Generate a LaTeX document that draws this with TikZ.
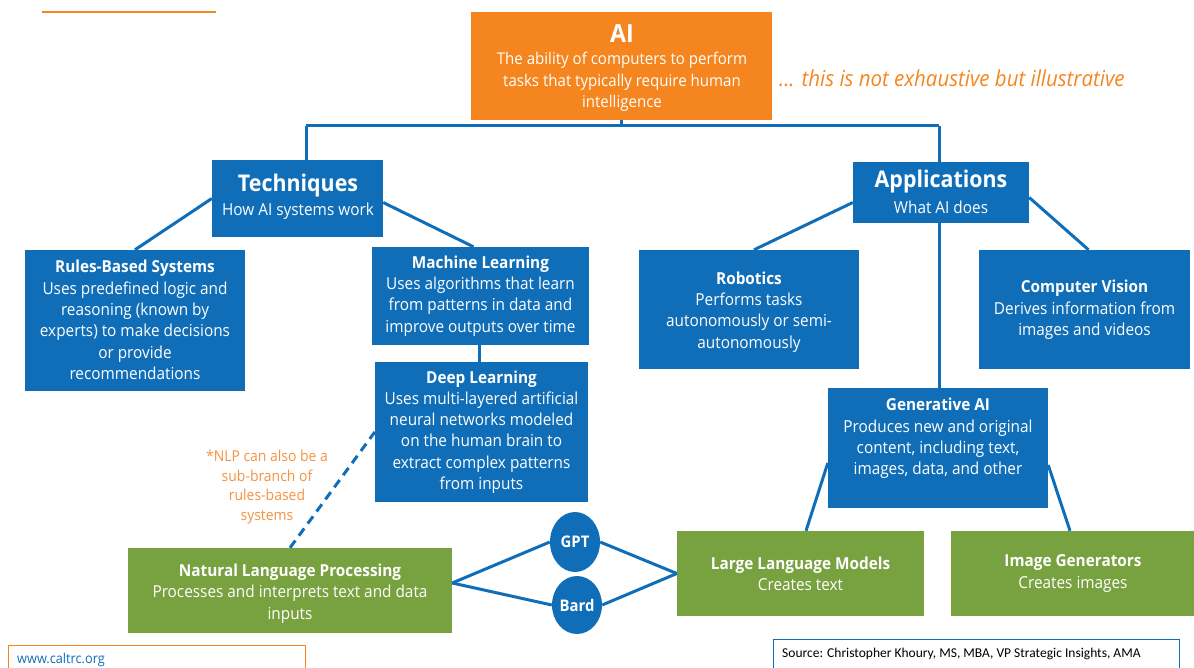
\documentclass[tikz,border=0pt]{standalone}
\usepackage{fontspec}
\setmainfont{Open Sans}[FakeStretch=0.93]
\newfontfamily\srcfont{Carlito}
\usetikzlibrary{calc,shapes.geometric}
\definecolor{ablue}{HTML}{106EB8}
\definecolor{aorange}{HTML}{F5861F}
\definecolor{agreen}{HTML}{78A13F}
\definecolor{notecol}{HTML}{F39340}
\begin{document}
\begin{tikzpicture}[x=1pt,y=-1pt,
  bluebox/.style={fill=ablue, inner sep=0pt, draw=none},
  greenbox/.style={fill=agreen, inner sep=0pt, draw=none},
  orangebox/.style={fill=aorange, inner sep=0pt, draw=none},
  txt/.style={text=white, align=center, inner sep=0pt, font=\fontsize{16.5}{21.3}\selectfont},
  bigtitle/.style={text=white, align=center, inner sep=0pt, font=\fontsize{23}{26}\selectfont\bfseries},
  conn/.style={draw=ablue, line width=3pt},
  circ/.style={ellipse, fill=ablue, inner sep=0pt, text=white, font=\fontsize{16}{18}\selectfont\bfseries},
]
\useasboundingbox (0,0) rectangle (1194,668);

% top orange rule
\coordinate (ol1) at (42,12);
\coordinate (ol2) at (216,12);
\draw[aorange, line width=1.5pt] (ol1) -- (ol2);

% AI box
\node[orangebox, minimum width=301pt, minimum height=108pt] (ai) at (621.5,66) {};
\node[text=white, inner sep=0pt, font=\fontsize{25}{28}\selectfont\bfseries] (aititle) at (622,34) {AI};
\node[txt, font=\fontsize{16.2}{21.5}\selectfont] (aidesc) at (622,82) {The ability of computers to perform\\tasks that typically require human\\intelligence};
\node[text=aorange, anchor=west, inner sep=0pt, font=\fontsize{22}{26}\selectfont\itshape] (illus) at (779,78) {... this is not exhaustive but illustrative};

% Techniques / Applications
\node[bluebox, minimum width=171pt, minimum height=77pt] (tech) at (297.5,198.5) {};
\node[bigtitle] (techt) at (298,186) {Techniques};
\node[txt, font=\fontsize{16.5}{20}\selectfont] (techd) at (298,211) {How AI systems work};

\node[bluebox, minimum width=176pt, minimum height=61pt] (app) at (941,192.5) {};
\node[bigtitle] (appt) at (941,182) {Applications};
\node[txt, font=\fontsize{16.5}{20}\selectfont] (appd) at (941,207) {What AI does};

% Level 2 boxes
\node[bluebox, minimum width=220pt, minimum height=141pt] (rules) at (135,320.5) {};
\node[txt] (rulest) at (135,320) {\textbf{Rules-Based Systems}\\Uses predefined logic and\\reasoning (known by\\experts) to make decisions\\or provide\\recommendations};

\node[bluebox, minimum width=217pt, minimum height=98pt] (ml) at (480.5,296) {};
\node[txt] (mlt) at (480.5,296) {\textbf{Machine Learning}\\Uses algorithms that learn\\from patterns in data and\\improve outputs over time};

\node[bluebox, minimum width=213pt, minimum height=140pt] (dl) at (481.5,432) {};
\node[txt] (dlt) at (481.5,432) {\textbf{Deep Learning}\\Uses multi-layered artificial\\neural networks modeled\\on the human brain to\\extract complex patterns\\from inputs};

\node[bluebox, minimum width=220pt, minimum height=119pt] (robot) at (749,309.5) {};
\node[txt] (robott) at (749,312) {\textbf{Robotics}\\Performs tasks\\autonomously or semi-\\autonomously};

\node[bluebox, minimum width=211pt, minimum height=119pt] (cv) at (1084.5,309.5) {};
\node[txt] (cvt) at (1084.5,310) {\textbf{Computer Vision}\\Derives information from\\images and videos};

\node[bluebox, minimum width=220pt, minimum height=120pt] (genai) at (938,448) {};
\node[txt] (genait) at (938,438.5) {\textbf{Generative AI}\\Produces new and original\\content, including text,\\images, data, and other};

% green boxes
\node[greenbox, minimum width=324pt, minimum height=85pt] (nlp) at (290,590.5) {};
\node[txt] (nlpt) at (290,593.5) {\textbf{Natural Language Processing}\\Processes and interprets text and data\\inputs};

\node[greenbox, minimum width=247pt, minimum height=85pt] (llm) at (800.5,573.5) {};
\node[txt] (llmt) at (800.5,573.5) {\textbf{Large Language Models}\\Creates text};

\node[greenbox, minimum width=244pt, minimum height=85pt] (img) at (1073,573.5) {};
\node[txt] (imgt) at (1073,573.5) {\textbf{Image Generators}\\Creates images};

% GPT / Bard
\node[circ, minimum width=50pt, minimum height=60pt] (gpt) at (575,542) {GPT};
\node[circ, minimum width=50pt, minimum height=58pt] (bard) at (577,605) {Bard};

% NLP note
\node[text=notecol, align=center, inner sep=0pt, font=\fontsize{15}{19.6}\selectfont] (nlpnote) at (267,487) {*NLP can also be a\\sub-branch of\\rules-based\\systems};

% connectors
\coordinate (tl) at (306,126);
\coordinate (tr) at (939,126);
\draw[conn] (ai.south) -- (ai.south|-tl);
\draw[conn] (tl) -- (tr);
\draw[conn] (tl) -- (tl|-tech.north);
\draw[conn] (tr) -- (tr|-app.north);
\draw[conn] (tech.west) -- (rules.north);
\draw[conn] ([yshift=-4pt]tech.east) -- ([xshift=-7pt]ml.north);
\draw[conn] ([yshift=-10pt]app.west) -- ([xshift=5pt]robot.north);
\draw[conn] ([yshift=-5pt]app.east) -- ([xshift=4pt]cv.north);
\draw[conn] (app.south-|tr) -- (tr|-genai.north);
\draw[conn] ([xshift=-1.5pt]ml.south) -- ([xshift=-2.5pt]dl.north);
\draw[conn] ([yshift=-15pt]genai.west) -- ([xshift=5.5pt]llm.north);
\draw[conn] ([yshift=-17pt]genai.east) -- ([xshift=-3pt]img.north);
\draw[conn, dash pattern=on 9pt off 6pt] (nlp.north) -- (dl.west);
\coordinate (nlpr) at ([yshift=7.5pt]nlp.east);
\draw[conn] (nlpr) -- (gpt.west);
\draw[conn] (nlpr) -- (bard.west);
\draw[conn] (gpt.east) -- (llm.west);
\draw[conn] (bard.east) -- (llm.west);

% footer boxes
\coordinate (cb1) at (8,645);
\coordinate (cb2) at (305,672);
\draw[aorange, line width=1pt] (cb1) rectangle (cb2);
\node[anchor=west, text=ablue, inner sep=0pt, font=\fontsize{13.7}{15}\selectfont] (web) at (17,660) {www.caltrc.org};

\coordinate (sb1) at (773,639);
\coordinate (sb2) at (1179,672);
\draw[ablue, line width=1pt] (sb1) rectangle (sb2);
\node[anchor=west, text=black, inner sep=0pt, font=\srcfont\fontsize{13.5}{15}\selectfont] (src) at (782,654) {Source: Christopher Khoury, MS, MBA, VP Strategic Insights, AMA};
\end{tikzpicture}
\end{document}
